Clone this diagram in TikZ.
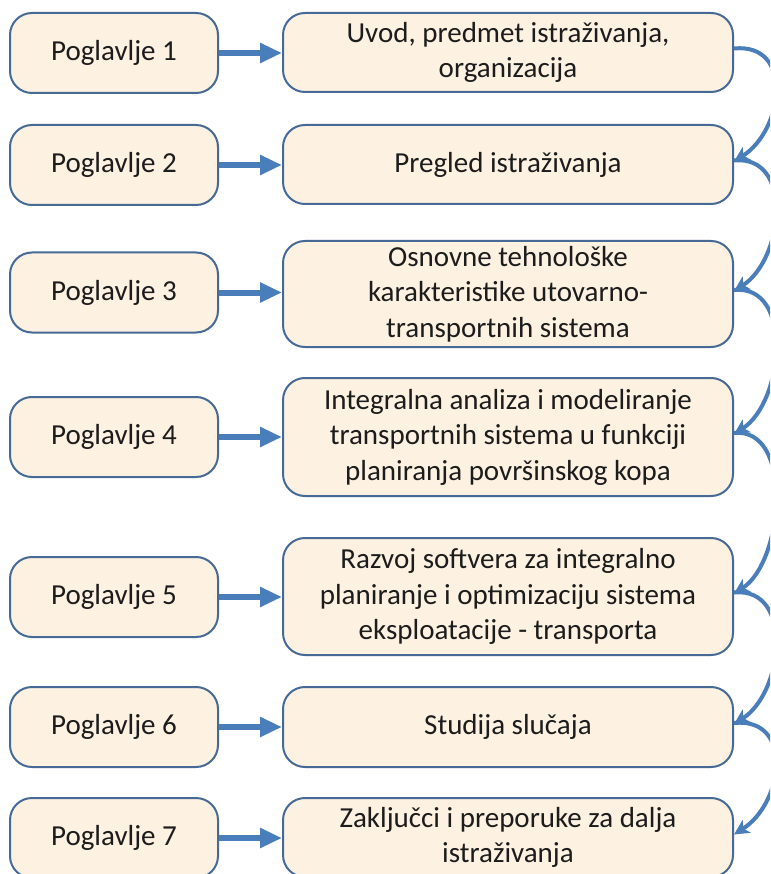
\documentclass[tikz,border=0pt]{standalone}
\usepackage{fontspec}
\setmainfont{Carlito}
\usetikzlibrary{arrows.meta}
\definecolor{boxfill}{RGB}{253,241,226}
\definecolor{boxline}{RGB}{70,105,150}
\definecolor{flow}{RGB}{74,126,187}
\definecolor{ink}{RGB}{28,28,28}
\tikzset{
  chapbox/.style={draw=boxline, line width=2pt, fill=boxfill, rounded corners=22pt,
    minimum width=208pt, minimum height=80pt, inner sep=0pt, text=ink,
    font=\fontsize{29}{35.5}\selectfont},
  topicbox/.style={chapbox, minimum width=450pt, align=center},
  hop/.style={draw=flow, line width=6pt, -{Triangle[length=22pt,width=19pt]}},
  link/.style={draw=flow, line width=4pt, -{Stealth[length=15pt,width=15pt,inset=4pt]}}
}
\begin{document}
\begin{tikzpicture}[x=1pt,y=-1pt]
\useasboundingbox (0,0) rectangle (770,874);
\clip (0,0) rectangle (770,874);

% chapter labels
\node[chapbox] (l1) at (114,53)  {Poglavlje 1};
\node[chapbox] (l2) at (114,165) {Poglavlje 2};
\node[chapbox] (l3) at (114,292.5) {Poglavlje 3};
\node[chapbox] (l4) at (114,437) {Poglavlje 4};
\node[chapbox] (l5) at (114,597) {Poglavlje 5};
\node[chapbox] (l6) at (114,727) {Poglavlje 6};
\node[chapbox] (l7) at (114,838) {Poglavlje 7};

% chapter contents
\node[topicbox, minimum height=79pt]  (r1) at (508,52.5)  {Uvod, predmet istraživanja,\\organizacija};
\node[topicbox, minimum height=79pt]  (r2) at (508,164.5) {Pregled istraživanja};
\node[topicbox, minimum height=106pt] (r3) at (508,294)   {Osnovne tehnološke\\karakteristike utovarno-\\transportnih sistema};
\node[topicbox, minimum height=118pt] (r4) at (508,437)   {Integralna analiza i modeliranje\\transportnih sistema u funkciji\\planiranja površinskog kopa};
\node[topicbox, minimum height=117pt] (r5) at (508,596.5) {Razvoj softvera za integralno\\planiranje i optimizaciju sistema\\eksploatacije - transporta};
\node[topicbox, minimum height=80pt]  (r6) at (508,727)   {Studija slučaja};
\node[topicbox, minimum height=79pt]  (r7) at (508,837.5) {Zaključci i preporuke za dalja\\istraživanja};

% label -> content arrows
\foreach \i in {1,...,7}
  \draw[hop] (l\i.east) -- (l\i.east -| r\i.west);

% sequence links along the right side
\foreach \a/\b in {1/2,2/3,3/4,4/5,5/6,6/7}
  \draw[link] ([yshift=4pt]r\a.east) .. controls +(60pt,6pt) and +(50pt,32pt) .. ([yshift=3pt]r\b.east);
\end{tikzpicture}
\end{document}
